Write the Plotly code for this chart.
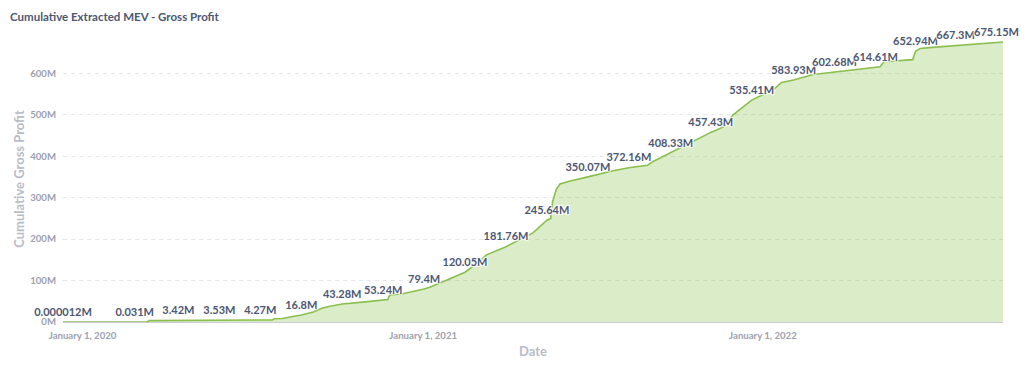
import plotly.graph_objects as go

# ---- data (values in millions USD) ----
dates = [
    "2019-12-11", "2020-02-26", "2020-03-10", "2020-03-13", "2020-04-13", "2020-05-27",
    "2020-07-10", "2020-07-23", "2020-07-25", "2020-08-03", "2020-08-11", "2020-08-23",
    "2020-09-05", "2020-09-14", "2020-09-23", "2020-10-06", "2020-10-28", "2020-11-19",
    "2020-11-24", "2020-11-26", "2020-12-10", "2021-01-02", "2021-01-08", "2021-01-26",
    "2021-02-15", "2021-02-28", "2021-03-10", "2021-03-31", "2021-04-07", "2021-04-29",
    "2021-05-14", "2021-05-18", "2021-05-20", "2021-05-24", "2021-05-28", "2021-06-08",
    "2021-06-27", "2021-07-24", "2021-08-10", "2021-08-30", "2021-09-04", "2021-09-24",
    "2021-10-14", "2021-10-18", "2021-11-06", "2021-11-19", "2021-11-30", "2021-12-20",
    "2021-12-29", "2022-01-12", "2022-01-21", "2022-02-03", "2022-02-24", "2022-03-19",
    "2022-05-02", "2022-05-07", "2022-05-11", "2022-06-11", "2022-06-14", "2022-06-19",
    "2022-06-29", "2022-07-27", "2022-09-09", "2022-09-16",
]
values = [
    0.000012, 0.031, 0.05, 3.3, 3.42, 3.53,
    4.27, 5.0, 8.0, 8.5, 12.0, 16.8,
    24.0, 33.0, 38.0, 43.28, 48.0, 53.24,
    54.0, 65.0, 68.0, 79.4, 84.0, 101.0,
    120.05, 142.0, 162.0, 181.76, 190.0, 215.0,
    245.64, 250.0, 290.0, 320.0, 333.0, 340.0,
    350.07, 365.0, 372.16, 378.0, 386.0, 408.33,
    432.0, 436.0, 457.43, 470.0, 500.0, 535.41,
    545.0, 560.0, 578.0, 583.93, 597.0, 602.68,
    614.61, 616.0, 628.0, 633.0, 652.94, 660.0,
    662.0, 667.3, 675.15, 675.5,
]

# points that carry a value label
label_dates = [
    "2019-12-11", "2020-02-26", "2020-04-13", "2020-05-27", "2020-07-10", "2020-08-23",
    "2020-10-06", "2020-11-19", "2021-01-02", "2021-02-15", "2021-03-31", "2021-05-14",
    "2021-06-27", "2021-08-10", "2021-09-24", "2021-11-06", "2021-12-20", "2022-02-03",
    "2022-03-19", "2022-05-02", "2022-06-14", "2022-07-27", "2022-09-09",
]
label_values = [
    0.000012, 0.031, 3.42, 3.53, 4.27, 16.8,
    43.28, 53.24, 79.4, 120.05, 181.76, 245.64,
    350.07, 372.16, 408.33, 457.43, 535.41, 583.93,
    602.68, 614.61, 652.94, 667.3, 675.15,
]

tick_dates = ["2020-01-01", "2021-01-01", "2022-01-01"]
tick_text = ["January 1, 2020", "January 1, 2021", "January 1, 2022"]


def fmt(v):
    s = f"{v:.6f}".rstrip("0").rstrip(".")
    return s + "M"


FONT = "Lato"
DARK = "#4c5773"
TICK = "#9ca1ad"
TITLE_AX = "#b8bcc6"
GREEN = "#88bf4d"

fig = go.Figure()
fig.add_trace(go.Scatter(
    x=dates, y=values, mode="lines",
    line=dict(color=GREEN, width=1.6),
    fill="tozeroy", fillcolor="rgba(136,191,77,0.30)",
    hoverinfo="skip", showlegend=False,
))
fig.add_trace(go.Scatter(
    x=label_dates, y=label_values, mode="markers+text",
    marker=dict(size=4, opacity=0),
    text=[fmt(v) for v in label_values],
    textposition="top center",
    textfont=dict(family=FONT, size=11, color=DARK, weight=700,
                  shadow="1px 1px 1px #fff, -1px -1px 1px #fff, 1px -1px 1px #fff, -1px 1px 1px #fff"),
    cliponaxis=False, hoverinfo="skip", showlegend=False,
))

fig.update_layout(
    width=1024, height=365,
    margin=dict(l=63, r=21, t=36, b=43),
    paper_bgcolor="white", plot_bgcolor="white",
    font=dict(family=FONT),
    title=dict(text="Cumulative Extracted MEV - Gross Profit", x=0.0098, xanchor="left",
               y=0.953, yanchor="middle",
               font=dict(family=FONT, size=11.5, color=DARK, weight=700)),
    hovermode=False,
)
fig.update_xaxes(
    type="date", range=["2019-12-11", "2022-09-16"],
    tickvals=tick_dates, ticktext=tick_text,
    tickfont=dict(family=FONT, size=9.6, color=TICK, weight=700),
    showgrid=False, zeroline=False, automargin=False,
    showline=True, linecolor="#c9ccd3", linewidth=1,
    ticks="", ticklabelstandoff=4,
    title=dict(text="Date", font=dict(family=FONT, size=13, color=TITLE_AX, weight=700), standoff=7),
)
fig.update_yaxes(
    range=[0, 690], tickmode="linear", tick0=0, dtick=100, ticksuffix="M",
    tickfont=dict(family=FONT, size=9.6, color=TICK, weight=700),
    showgrid=True, gridcolor="#e4e6ea", griddash="4px,4px", gridwidth=1,
    zeroline=False, showline=False, ticks="", ticklabelstandoff=6, automargin=False,
    title=dict(text="Cumulative Gross Profit", font=dict(family=FONT, size=13, color=TITLE_AX, weight=700), standoff=2),
)

fig.write_html("out.html", config={"displayModeBar": False},
               post_script="document.body.style.margin='0';")
